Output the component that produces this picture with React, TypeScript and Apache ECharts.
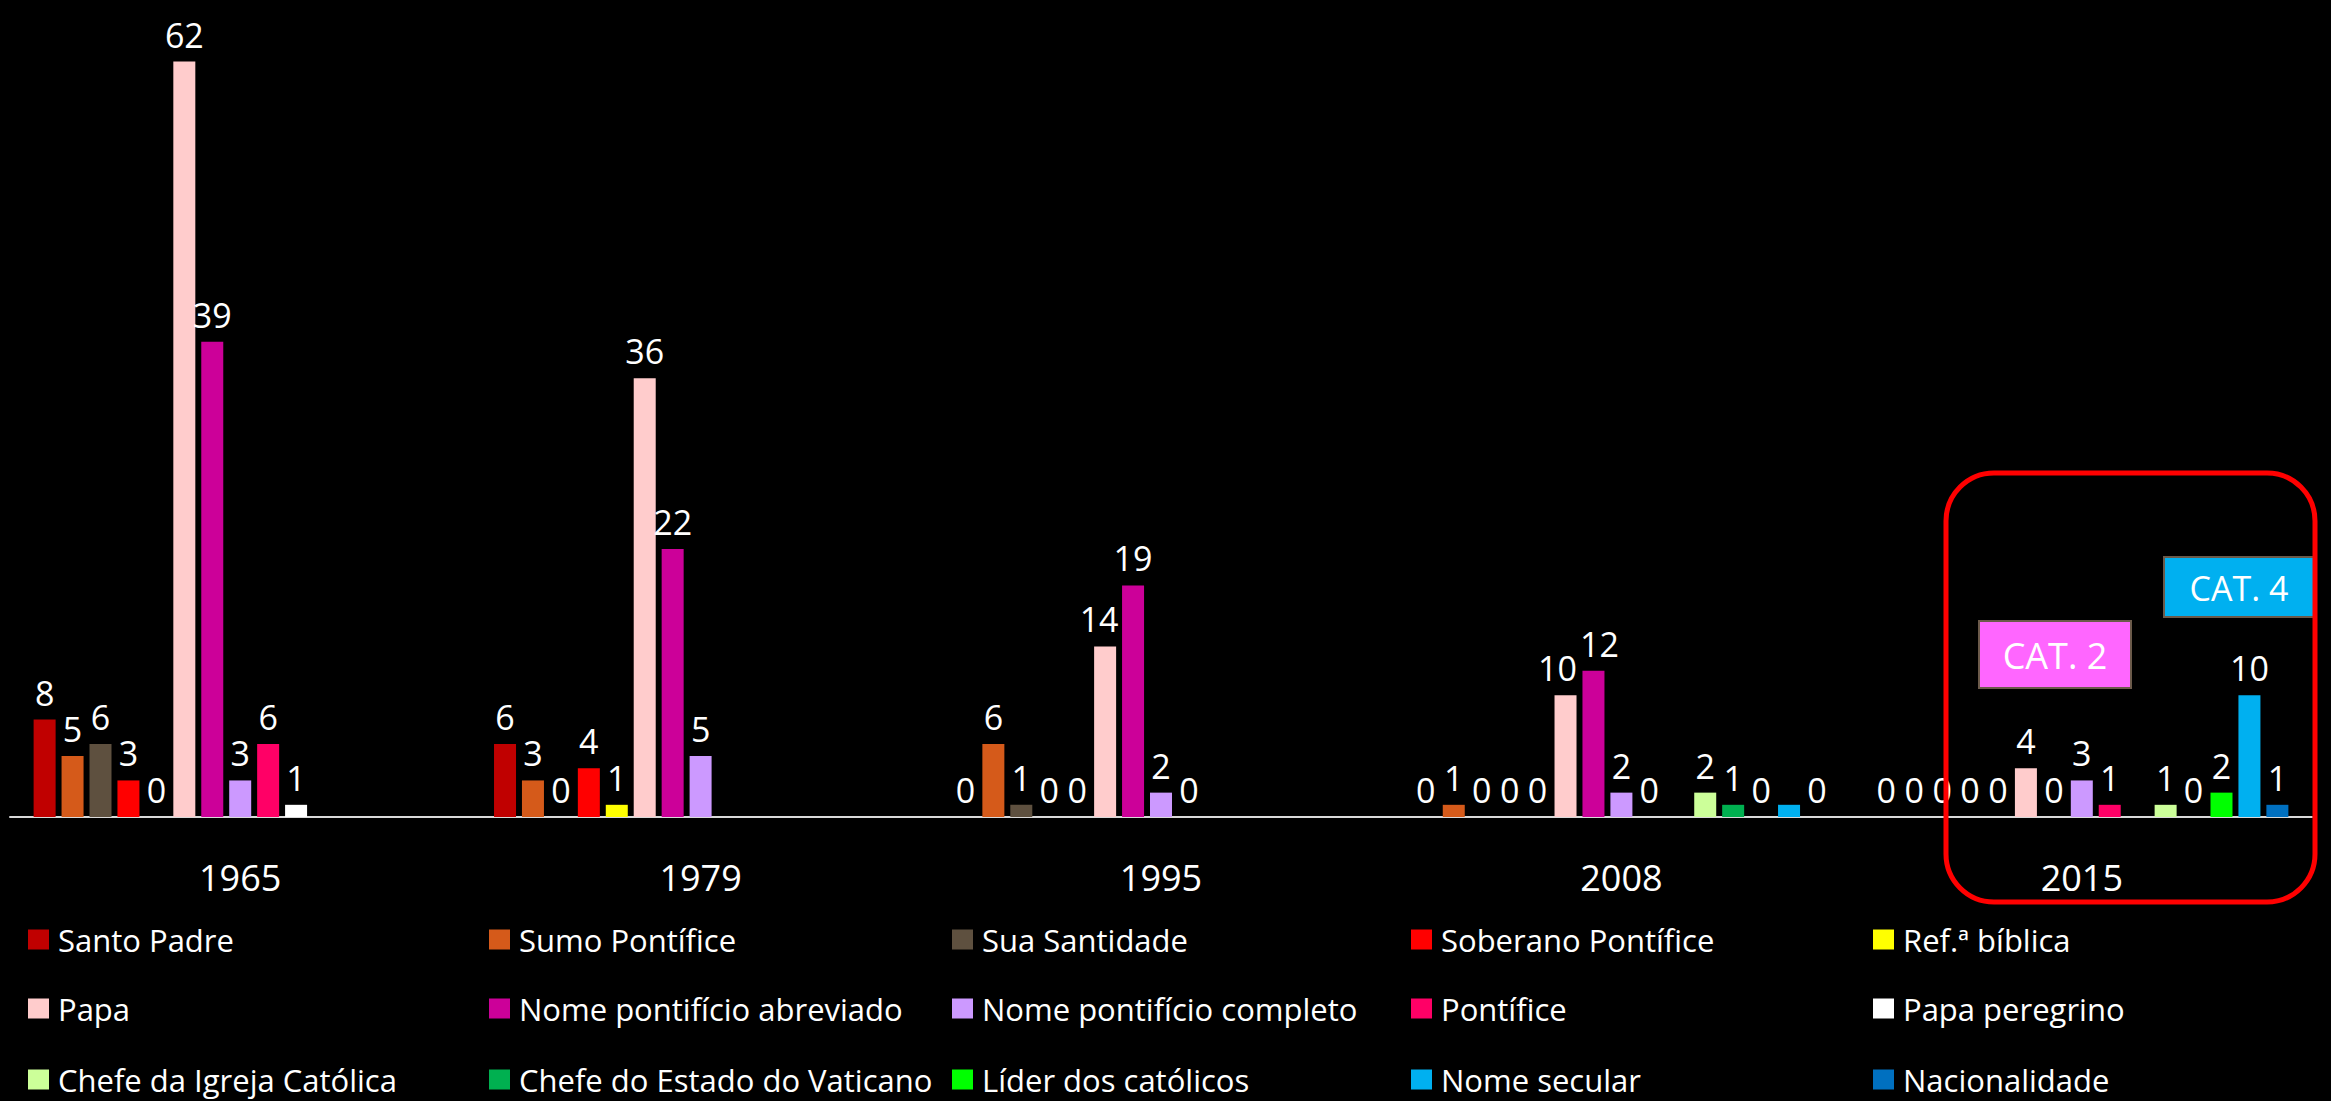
import React, { useEffect, useRef } from "react";
import * as echarts from "echarts";

const years = ["1965", "1979", "1995", "2008", "2015"];

const seriesNames = [
  "Santo Padre",
  "Sumo Pontífice",
  "Sua Santidade",
  "Soberano Pontífice",
  "Ref.ª bíblica",
  "Papa",
  "Nome pontifício abreviado",
  "Nome pontifício completo",
  "Pontífice",
  "Papa peregrino",
  "Chefe da Igreja Católica",
  "Chefe do Estado do Vaticano",
  "Líder dos católicos",
  "Nome secular",
  "Nacionalidade",
];

const seriesColors = [
  "#C00000",
  "#D55A1A",
  "#5E503F",
  "#FF0000",
  "#FFFF00",
  "#FFCCCC",
  "#CC0099",
  "#CC99FF",
  "#FF0066",
  "#FFFFFF",
  "#CCFF99",
  "#00B050",
  "#00FF00",
  "#00B0F0",
  "#0070C0",
];

const santoPadre = [8, 6, 0, 0, 0];
const sumoPontifice = [5, 3, 6, 1, 0];
const suaSantidade = [6, 0, 1, 0, 0];
const soberanoPontifice = [3, 4, 0, 0, 0];
const refBiblica = [0, 1, 0, 0, 0];
const papa = [62, 36, 14, 10, 4];
const nomeAbreviado = [39, 22, 19, 12, 0];
const nomeCompleto = [3, 5, 2, 2, 3];
const pontifice = [6, null, 0, 0, 1];
const papaPeregrino = [1, null, null, null, null];
const chefeIgreja = [null, null, null, 2, 1];
const chefeEstado = [null, null, null, 1, 0];
const liderCatolicos = [null, null, null, 0, 2];
const nomeSecular = [null, null, null, 1, 10];
const nacionalidade = [null, null, null, 0, 1];

const seriesValues = [
  santoPadre,
  sumoPontifice,
  suaSantidade,
  soberanoPontifice,
  refBiblica,
  papa,
  nomeAbreviado,
  nomeCompleto,
  pontifice,
  papaPeregrino,
  chefeIgreja,
  chefeEstado,
  liderCatolicos,
  nomeSecular,
  nacionalidade,
];

// [seriesIndex, yearIndex] of bars whose value label is not shown
const hiddenLabels = [[13, 3]];
// [seriesIndex, yearIndex, dx] labels nudged sideways as in the reference
const nudgedLabels = [
  [5, 3, -8],
  [6, 3, 6],
  [5, 2, -6],
];

const FONT = "'Open Sans', 'Noto Sans', sans-serif";

const legendCols = [28, 489, 952, 1411, 1873];
const legendRows = [942, 1011, 1082];

export default function App() {
  const ref = useRef<HTMLDivElement>(null);

  useEffect(() => {
    const chart = echarts.init(ref.current!, null, { renderer: "svg" });

    const series = seriesNames.map((name, si) => ({
      name,
      type: "bar",
      barWidth: 22,
      barGap: "27%",
      itemStyle: { color: seriesColors[si] },
      label: {
        show: true,
        position: "top",
        distance: 10,
        color: "#FFFFFF",
        fontSize: 34,
        fontFamily: FONT,
      },
      data: seriesValues[si].map((v, yi) => {
        const hide = hiddenLabels.some(([s, y]) => s === si && y === yi);
        if (hide) return { value: v, label: { show: false } };
        const n = nudgedLabels.find(([s, y]) => s === si && y === yi);
        if (n) return { value: v, label: { offset: [n[2], 0] } };
        return v;
      }),
    }));

    const legends = seriesNames.map((name, i) => ({
      data: [name],
      orient: "horizontal",
      left: legendCols[i % 5],
      top: legendRows[Math.floor(i / 5)] - 18,
      padding: 0,
      icon: "rect",
      itemWidth: 21,
      itemHeight: 20,
      selectedMode: false,
      textStyle: {
        color: "#FFFFFF",
        fontSize: 31,
        fontFamily: FONT,
        padding: [0, 0, 0, 4],
      },
    }));

    const option = {
      animation: false,
      backgroundColor: "#000000",
      grid: { left: 10, right: 19, top: 25, bottom: 284 },
      xAxis: {
        type: "category",
        data: years,
        axisLine: { show: true, lineStyle: { color: "#D9D9D9", width: 2 } },
        axisTick: { show: false },
        axisLabel: {
          color: "#FFFFFF",
          fontSize: 36,
          fontFamily: FONT,
          margin: 42,
        },
      },
      yAxis: {
        type: "value",
        min: 0,
        max: 65,
        show: false,
        splitLine: { show: false },
      },
      legend: legends,
      series,
      graphic: [
        {
          type: "rect",
          shape: { x: 1979, y: 621, width: 152, height: 67 },
          style: { fill: "#FF66FF", stroke: "#6B5A4A", lineWidth: 2 },
          z: 10,
        },
        {
          type: "text",
          x: 2055,
          y: 655,
          style: {
            text: "CAT. 2",
            fill: "#FFFFFF",
            fontSize: 36,
            fontFamily: FONT,
            align: "center",
            verticalAlign: "middle",
          },
          z: 11,
        },
        {
          type: "rect",
          shape: { x: 2164, y: 557, width: 150, height: 60 },
          style: { fill: "#00B0F0", stroke: "#6B5A4A", lineWidth: 2 },
          z: 10,
        },
        {
          type: "text",
          x: 2239,
          y: 588,
          style: {
            text: "CAT. 4",
            fill: "#FFFFFF",
            fontSize: 34,
            fontFamily: FONT,
            align: "center",
            verticalAlign: "middle",
          },
          z: 11,
        },
        {
          type: "rect",
          shape: { x: 1946, y: 473, width: 369, height: 429, r: 48 },
          style: { fill: "none", stroke: "#FF0000", lineWidth: 5 },
          z: 12,
        },
      ],
    };

    chart.setOption(option as any);
    return () => chart.dispose();
  }, []);

  return (
    <div
      ref={ref}
      style={{ position: "absolute", left: 0, top: 0, width: 2331, height: 1101 }}
    />
  );
}
